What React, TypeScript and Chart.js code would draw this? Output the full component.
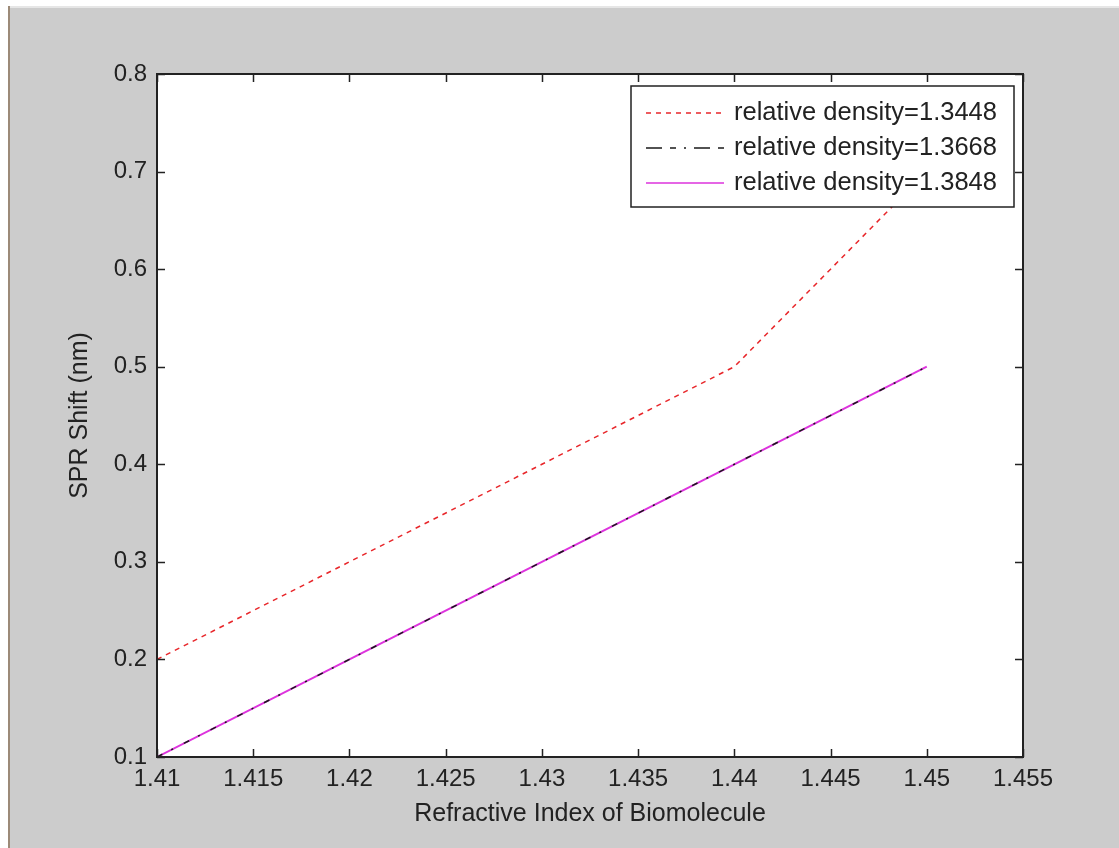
import React, { useEffect, useRef } from "react";
import { Chart, registerables } from "chart.js";

Chart.register(...registerables);

const xValues = [1.41, 1.42, 1.43, 1.44, 1.45];
const ySeries1 = [0.2, 0.3, 0.4, 0.5, 0.7];
const ySeries2 = [0.1, 0.2, 0.3, 0.4, 0.5];
const ySeries3 = [0.1, 0.2, 0.3, 0.4, 0.5];
const seriesLabels = [
  "relative density=1.3448",
  "relative density=1.3668",
  "relative density=1.3848",
];
const xTicks = [1.41, 1.415, 1.42, 1.425, 1.43, 1.435, 1.44, 1.445, 1.45, 1.455];
const xTickLabels = ["1.41", "1.415", "1.42", "1.425", "1.43", "1.435", "1.44", "1.445", "1.45", "1.455"];
const yTicks = [0.1, 0.2, 0.3, 0.4, 0.5, 0.6, 0.7, 0.8];
const yTickLabels = ["0.1", "0.2", "0.3", "0.4", "0.5", "0.6", "0.7", "0.8"];
const xTitle = "Refractive Index of Biomolecule";
const yTitle = "SPR Shift (nm)";

const FONT = "'Liberation Sans', Arial, sans-serif";

const bgPlugin = {
  id: "bgPlugin",
  beforeDraw(chart: any) {
    const { ctx, width, height, chartArea } = chart;
    ctx.save();
    ctx.fillStyle = "#ffffff";
    ctx.fillRect(0, 0, width, height);
    ctx.fillStyle = "#cccccc";
    ctx.fillRect(8, 6, width - 8, height - 6);
    ctx.fillStyle = "#e6e6e6";
    ctx.fillRect(8, 6, width - 8, 2);
    ctx.fillStyle = "#9c8a78";
    ctx.fillRect(8, 6, 2, height - 6);
    ctx.fillStyle = "#ffffff";
    ctx.fillRect(chartArea.left, chartArea.top, chartArea.right - chartArea.left, chartArea.bottom - chartArea.top);
    ctx.restore();
  },
};

const framePlugin = {
  id: "framePlugin",
  afterDraw(chart: any) {
    const { ctx, chartArea, scales } = chart;
    const { left, right, top, bottom } = chartArea;
    const tl = 8;
    ctx.save();
    ctx.strokeStyle = "#222222";
    ctx.lineWidth = 1.5;
    ctx.beginPath();
    scales.x.ticks.forEach((t: any) => {
      const px = Math.round(scales.x.getPixelForValue(t.value)) + 0.5;
      ctx.moveTo(px, bottom);
      ctx.lineTo(px, bottom - tl);
      ctx.moveTo(px, top);
      ctx.lineTo(px, top + tl);
    });
    scales.y.ticks.forEach((t: any) => {
      const py = Math.round(scales.y.getPixelForValue(t.value)) + 0.5;
      ctx.moveTo(left, py);
      ctx.lineTo(left + tl, py);
      ctx.moveTo(right, py);
      ctx.lineTo(right - tl, py);
    });
    ctx.stroke();
    ctx.lineWidth = 2;
    ctx.strokeRect(left, top, right - left, bottom - top);

    // legend box
    const lx = 631, ly = 86, lw = 383, lh = 121;
    ctx.fillStyle = "#ffffff";
    ctx.fillRect(lx, ly, lw, lh);
    ctx.lineWidth = 1.5;
    ctx.strokeStyle = "#222222";
    ctx.strokeRect(lx, ly, lw, lh);
    ctx.font = `25.5px ${FONT}`;
    ctx.textBaseline = "middle";
    ctx.textAlign = "left";
    chart.data.datasets.forEach((ds: any, i: number) => {
      const cy = ly + 27 + i * 35;
      ctx.save();
      ctx.strokeStyle = ds.borderColor;
      ctx.lineWidth = 1.5;
      ctx.setLineDash(ds.legendDash || ds.borderDash || []);
      ctx.beginPath();
      ctx.moveTo(646, cy);
      ctx.lineTo(724, cy);
      ctx.stroke();
      ctx.restore();
      ctx.fillStyle = "#222222";
      ctx.fillText(ds.label, 734, cy);
    });
    ctx.restore();
  },
};

export default function App() {
  const ref = useRef<HTMLCanvasElement | null>(null);
  useEffect(() => {
    document.body.style.margin = "0";
    const canvas = ref.current!;
    const mk = (ys: number[]) => xValues.map((x, i) => ({ x, y: ys[i] }));
    const chart = new Chart(canvas, {
      type: "line",
      data: {
        datasets: [
          {
            label: seriesLabels[0],
            data: mk(ySeries1),
            borderColor: "#e8262a",
            borderWidth: 1.5,
            borderDash: [5, 5],
            pointRadius: 0,
            fill: false,
            tension: 0,
          } as any,
          {
            label: seriesLabels[1],
            data: mk(ySeries2),
            borderColor: "#1a1a1a",
            borderWidth: 1.5,
            borderDash: [6, 10, 2, 12],
            legendDash: [16, 8, 6, 8, 2, 8],
            pointRadius: 0,
            fill: false,
            tension: 0,
          } as any,
          {
            label: seriesLabels[2],
            data: mk(ySeries3),
            borderColor: "#dd33dd",
            borderWidth: 2,
            pointRadius: 0,
            fill: false,
            tension: 0,
          },
        ],
      },
      options: {
        animation: false,
        responsive: false,
        maintainAspectRatio: false,
        layout: { padding: { top: 74, right: 96, left: 0, bottom: 0 } },
        plugins: { legend: { display: false }, tooltip: { enabled: false } },
        scales: {
          x: {
            type: "linear",
            min: 1.41,
            max: 1.455,
            afterBuildTicks: (scale: any) => {
              scale.ticks = xTicks.map((v) => ({ value: v }));
            },
            afterFit: (scale: any) => {
              scale.height = 91;
            },
            grid: { display: true, drawOnChartArea: false, drawTicks: false, color: "rgba(0,0,0,0)" },
            border: { display: false },
            ticks: {
              padding: 8,
              autoSkip: false,
              maxRotation: 0,
              color: "#222222",
              font: { family: FONT, size: 24 },
              callback: (v: any) => {
                const i = xTicks.findIndex((t) => Math.abs(t - v) < 1e-9);
                return i >= 0 ? xTickLabels[i] : "";
              },
            },
            title: {
              display: true,
              text: xTitle,
              color: "#222222",
              font: { family: FONT, size: 25 },
              padding: { top: 0, bottom: 19 },
            },
          },
          y: {
            type: "linear",
            min: 0.1,
            max: 0.8,
            afterBuildTicks: (scale: any) => {
              scale.ticks = yTicks.map((v) => ({ value: v }));
            },
            afterFit: (scale: any) => {
              scale.width = 157;
            },
            grid: { display: true, drawOnChartArea: false, drawTicks: false, color: "rgba(0,0,0,0)" },
            border: { display: false },
            ticks: {
              padding: 10,
              autoSkip: false,
              color: "#222222",
              font: { family: FONT, size: 24 },
              callback: (v: any) => {
                const i = yTicks.findIndex((t) => Math.abs(t - v) < 1e-9);
                return i >= 0 ? yTickLabels[i] : "";
              },
            },
            title: {
              display: true,
              text: yTitle,
              color: "#222222",
              font: { family: FONT, size: 25 },
              padding: { top: 65, bottom: 0 },
            },
          },
        },
      },
      plugins: [bgPlugin, framePlugin],
    });
    return () => chart.destroy();
  }, []);
  return <canvas ref={ref} width={1119} height={848} style={{ display: "block" }} />;
}
